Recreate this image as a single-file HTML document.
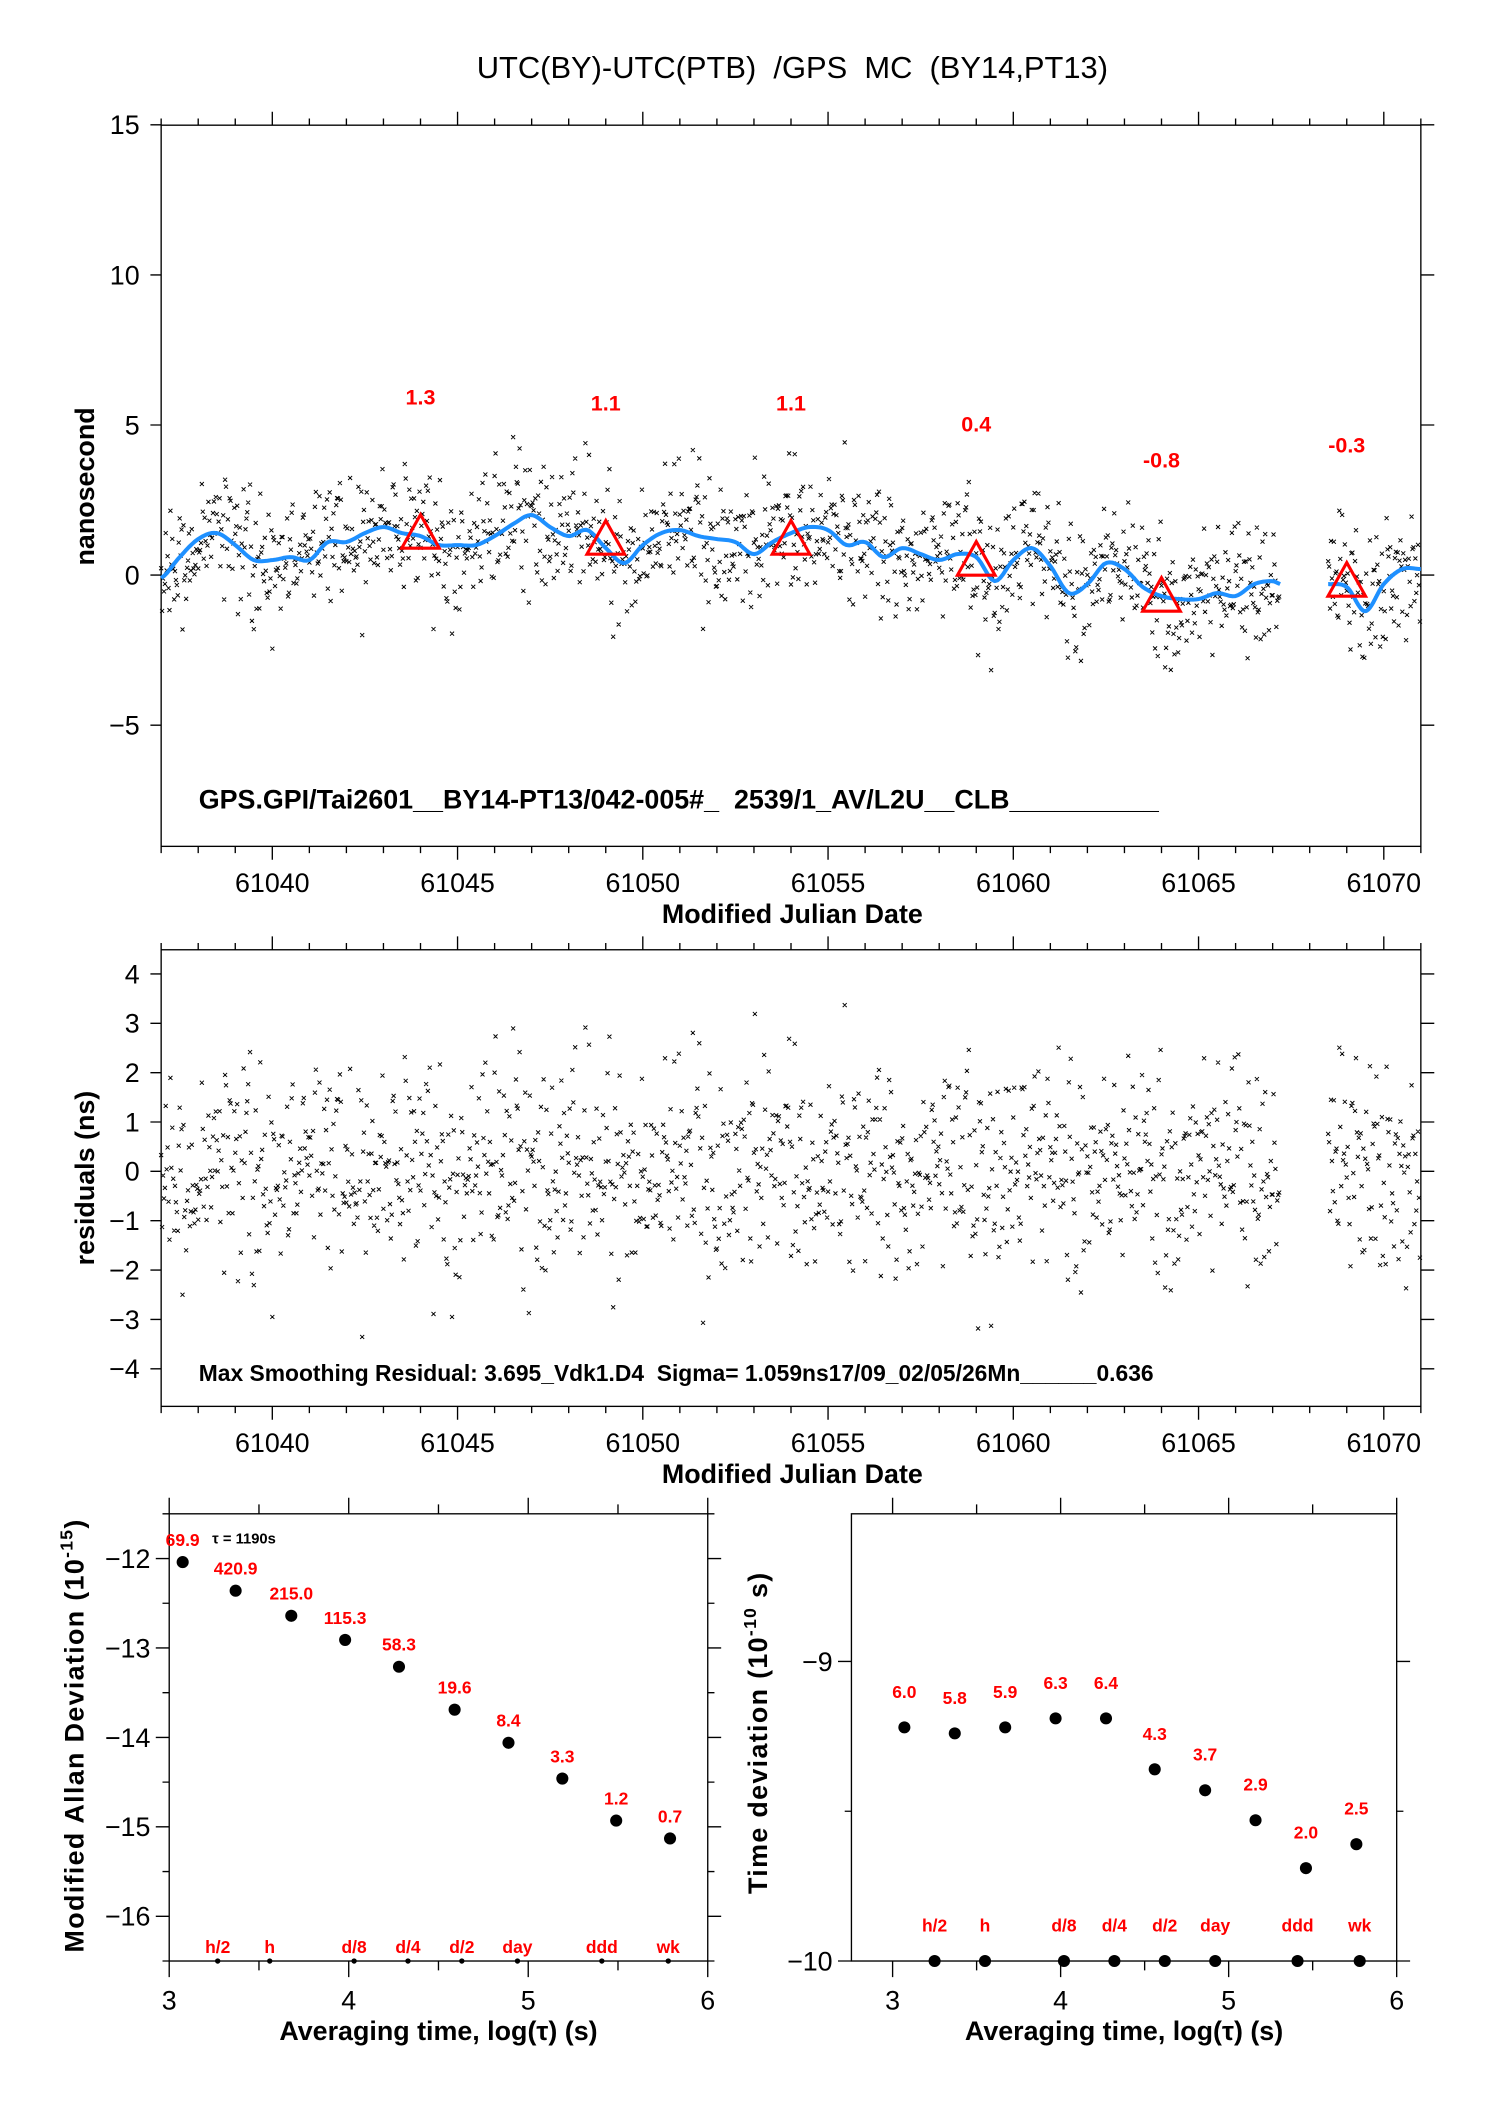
<!DOCTYPE html>
<html><head><meta charset="utf-8">
<style>
html,body{margin:0;padding:0;background:#fff;}
svg{display:block;font-family:"Liberation Sans",sans-serif;}
text{white-space:pre;}
</style></head>
<body>
<svg id="root" width="1488" height="2105" viewBox="0 0 1108 1567" xmlns="http://www.w3.org/2000/svg">
<text x="590" y="58" font-size="23" text-anchor="middle" xml:space="preserve">UTC(BY)-UTC(PTB)  /GPS  MC  (BY14,PT13)</text>
<g id="top"></g>
<g id="mid"></g>
<g id="bl"></g>
<g id="br"></g>
</svg>
<script>
// ---- data ----
const smoothMjd = [61037,61037.5,61038,61038.5,61039,61039.5,61040,61040.5,61041,61041.5,61042,61042.5,61043,61043.5,61044,61044.5,61045,61045.5,61046,61046.5,61047,61047.5,61048,61048.5,61049,61049.5,61050,61050.5,61051,61051.5,61052,61052.5,61053,61053.5,61054,61054.5,61055,61055.5,61056,61056.5,61057,61057.5,61058,61058.5,61059,61059.5,61060,61060.5,61061,61061.5,61062,61062.5,61063,61063.5,61064,61064.5,61065,61065.5,61066,61066.5,61067,61067.2];
const smoothVal = [-0.1,0.6,1.2,1.4,1.0,0.5,0.5,0.6,0.5,1.1,1.1,1.4,1.6,1.4,1.3,1.0,1.0,1.0,1.3,1.7,2.0,1.6,1.3,1.5,0.9,0.4,1.0,1.4,1.5,1.3,1.2,1.1,0.7,1.1,1.4,1.6,1.5,1.0,1.1,0.6,0.9,0.7,0.5,0.7,0.6,-0.2,0.5,0.9,0.3,-0.6,-0.3,0.4,0.2,-0.4,-0.7,-0.8,-0.8,-0.6,-0.7,-0.3,-0.2,-0.3];
const smooth2Mjd = [61068.5,61069,61069.5,61070,61070.5,61071];
const smooth2Val = [-0.3,-0.4,-1.2,-0.3,0.2,0.2];
const triMjd = [61044,61049,61054,61059,61064,61069];
const triVal = [1.3,1.1,1.1,0.4,-0.8,-0.3];
const residualPattern = [0.3,-0.8,1.2,-0.2,0.6,-1.5,0.1,0.9,-0.4,2.1,-1.1,0.4,-0.6,1.6,-2.3,0.2,0.7,-0.9,1.1,-0.1,-1.8,0.5,2.7,-0.3,0.8,-1.3,0.0,1.4,-0.7,-2.6,0.6,1.9,-0.5,0.3,-1.0,2.4,-0.2,-1.6,0.9,0.1,-0.4,1.3,-3.1,0.4,0.7,-0.8,1.7,-1.2,0.2,2.9,-0.6,-0.1,1.0,-2.0,0.5,-0.9,1.5,0.0,-1.4,0.8,3.3,-0.3,-0.7,1.2,-2.8,0.4,0.6,-1.1,2.2,-0.5,0.1,-1.9,1.8,0.3,-0.2,-3.5,1.1,0.9,-0.6,2.5,-1.5,0.2,-0.4,1.4,-2.2,0.7,0.0,-1.0,1.9,-0.8,0.5,-2.4,3.0,-0.3,0.6,-1.7,0.8];
const mjdTicks = [61040,61045,61050,61055,61060,61065,61070];
const topYTicks = [15,10,5,0,-5];
const midYTicks = [4,3,2,1,0,-1,-2,-3,-4];
const adevLogTau = [3.075,3.37,3.68,3.98,4.28,4.59,4.89,5.19,5.49,5.79];
const adevVal = [-12.04,-12.36,-12.64,-12.91,-13.21,-13.69,-14.06,-14.46,-14.93,-15.13];
const adevLabels = ["69.9","420.9","215.0","115.3","58.3","19.6","8.4","3.3","1.2","0.7"];
const tdevLogTau = [3.07,3.37,3.67,3.97,4.27,4.56,4.86,5.16,5.46,5.76];
const tdevVal = [-9.22,-9.24,-9.22,-9.19,-9.19,-9.36,-9.43,-9.53,-9.69,-9.61];
const tdevLabels = ["6.0","5.8","5.9","6.3","6.4","4.3","3.7","2.9","2.0","2.5"];
const markerNames = ["h/2","h","d/8","d/4","d/2","day","ddd","wk"];
const markerLogTauL = [3.27,3.56,4.03,4.33,4.63,4.94,5.41,5.78];
const markerLogTauR = [3.25,3.55,4.02,4.32,4.62,4.92,5.41,5.78];
const adevYTicks = [-12,-13,-14,-15,-16];
const tdevYTicks = [-9,-10];
const logTicks = [3,4,5,6];

const NS="http://www.w3.org/2000/svg";
function mk(parent,tag,attrs,text){const e=document.createElementNS(NS,tag);for(const k in attrs)e.setAttribute(k,attrs[k]);if(text!==undefined)e.textContent=text;parent.appendChild(e);return e;}
function interp(xs,ys,x){for(let i=0;i<xs.length-1;i++){if(x>=xs[i]&&x<=xs[i+1]){const t=(x-xs[i])/(xs[i+1]-xs[i]);return ys[i]+t*(ys[i+1]-ys[i]);}}return ys[ys.length-1];}
function spline(xs,ys,x){let i=0;while(i<xs.length-2&&x>xs[i+1])i++;
  const p0=ys[Math.max(i-1,0)],p1=ys[i],p2=ys[i+1],p3=ys[Math.min(i+2,ys.length-1)];
  const t=Math.min(1,Math.max(0,(x-xs[i])/(xs[i+1]-xs[i])));const t2=t*t,t3=t2*t;
  return 0.5*((2*p1)+(-p0+p2)*t+(2*p0-5*p1+4*p2-p3)*t2+(-p0+3*p1-3*p2+p3)*t3);}

const X0=120,X1=1058,M0=61037,M1=61071;
const xM=m=>X0+(m-M0)/(M1-M0)*(X1-X0);
function frameMjd(g,top,bot){
  mk(g,'rect',{x:X0,y:top,width:X1-X0,height:bot-top,fill:'none',stroke:'#000','stroke-width':1});
  let d='';
  for(let m=61037;m<=61071;m++){const x=xM(m);const L=(m%5===0)?10:5;d+=`M${x},${top}v${-L}M${x},${bot}v${L}`;}
  const p=mk(g,'path',{d:d,stroke:'#000','stroke-width':1,fill:'none'});
  
  
  mjdTicks.forEach(m=>{const t=mk(g,'text',{x:xM(m),y:bot+34,'font-size':20,'text-anchor':'middle'},String(m));
    
    });
  const at=mk(g,'text',{x:590,y:bot+57,'font-size':20,'font-weight':'bold','text-anchor':'middle'},'Modified Julian Date');
  
  
}
function yAxis(g,ticks,yf,x0,x1){
  let d='';
  ticks.forEach(v=>{const y=yf(v);d+=`M${x0},${y}h-8M${x1},${y}h10`;
    const t=mk(g,'text',{x:x0-16,y:y+7,'font-size':20,'text-anchor':'end'},String(v).replace('-','\u2212'));
    
    });
  const p=mk(g,'path',{d:d,stroke:'#000','stroke-width':1});
  
  
}
function crosses(g,pts,name){
  let d='';const s=1.5;
  pts.forEach(([x,y])=>{d+=`M${(x-s).toFixed(1)},${(y-s).toFixed(1)}l${2*s},${2*s}M${(x-s).toFixed(1)},${(y+s).toFixed(1)}l${2*s},${-2*s}`;});
  const p=mk(g,'path',{d:d,stroke:'#000','stroke-width':0.7,fill:'none'});
  
  
}
function sampleMjds(){const a=[];const step=1/40;
  for(let m=61037.0;m<=61067.2;m+=step)a.push(m);
  for(let m=61068.5;m<=61071;m+=step)a.push(m);return a;}
const mjds=sampleMjds();
const N=residualPattern.length;
function resid(i){return 0.65*residualPattern[(i*37)%N]+0.45*residualPattern[(i*3+11*Math.floor(i/N))%N];}

(function(){
  const g=document.getElementById('top');const top=93,bot=630;
  const yT=v=>428-v*22.35;
  frameMjd(g,top,bot);
  yAxis(g,topYTicks,yT,X0,X1);
  const yl=mk(g,'text',{x:0,y:0,'font-size':20,'font-weight':'bold','text-anchor':'middle',transform:'translate(70,362) rotate(-90)'},'nanosecond');
  
  
  const pts=[];
  mjds.forEach((m,i)=>{const base=m<61068?interp(smoothMjd,smoothVal,m):interp(smooth2Mjd,smooth2Val,m);
    pts.push([xM(m),yT(base+resid(i))]);});
  crosses(g,pts,'measurement-points');
  function line(xs,ys,name){let d='';const a=xs[0],b=xs[xs.length-1];
    for(let k=0;k<=400;k++){const m=a+(b-a)*k/400;d+=(k?'L':'M')+xM(m).toFixed(1)+','+yT(spline(xs,ys,m)).toFixed(1);}
    const p=mk(g,'path',{d:d,stroke:'#1e90ff','stroke-width':3,fill:'none','stroke-linejoin':'round'});
    
    }
  line(smoothMjd,smoothVal,'smoothing-curve');
  line(smooth2Mjd,smooth2Val,'smoothing-curve-2');
  triMjd.forEach((m,i)=>{const x=xM(m),y=yT(triVal[i]);
    const t=mk(g,'path',{d:`M${x},${y-16}L${x-14},${y+9}L${x+14},${y+9}Z`,fill:'none',stroke:'#f00','stroke-width':2.3});
    
    
    const l=mk(g,'text',{x:x,y:yT(triVal[i]+4.65)+6,'font-size':16,'font-weight':'bold',fill:'#f00','text-anchor':'middle'},triVal[i].toFixed(1));
    
    });
  const f=mk(g,'text',{x:148,y:602,'font-size':20,'font-weight':'bold'},'GPS.GPI/Tai2601__BY14-PT13/042-005#_  2539/1_AV/L2U__CLB__________');
  
  
})();

(function(){
  const g=document.getElementById('mid');const top=707,bot=1047;
  const yR=v=>872-v*36.75;
  frameMjd(g,top,bot);
  yAxis(g,midYTicks,yR,X0,X1);
  const yl=mk(g,'text',{x:0,y:0,'font-size':20,'font-weight':'bold','text-anchor':'middle',transform:'translate(70,877) rotate(-90)'},'residuals (ns)');
  
  
  const pts=[];
  mjds.forEach((m,i)=>{pts.push([xM(m),yR(resid(i))]);});
  crosses(g,pts,'residual-points');
  const f=mk(g,'text',{x:148,y:1028,'font-size':17,'font-weight':'bold'},'Max Smoothing Residual: 3.695_Vdk1.D4  Sigma= 1.059ns17/09_02/05/26Mn______0.636');
  
  
})();

function devPanel(g,o){
  const {x0,x1,top,bot,l0,l1,v0,v1}=o;
  const xf=l=>x0+(l-l0)/(l1-l0)*(x1-x0);
  const yf=v=>top+(v1-v)/(v1-v0)*(bot-top);
  mk(g,'rect',{x:x0,y:top,width:x1-x0,height:bot-top,fill:'none',stroke:'#000','stroke-width':1});
  let d='';
  for(let l=3;l<=6.001;l+=0.5){const x=xf(l);const L=(Math.abs(l-Math.round(l))<0.01)?12:7;d+=`M${x},${top}v${-L}M${x},${bot}v${L}`;}
  for(let v=Math.ceil(v0*2)/2;v<=v1;v+=0.5){const y=yf(v);const L=(Math.abs(v-Math.round(v))<0.01)?10:5;d+=`M${x0},${y}h${-L}M${x1},${y}h${L}`;}
  const p=mk(g,'path',{d:d,stroke:'#000','stroke-width':1});
  
  
  logTicks.forEach(l=>{const t=mk(g,'text',{x:xf(l),y:bot+36,'font-size':20,'text-anchor':'middle'},String(l));
    
    });
  o.yTicks.forEach(v=>{const t=mk(g,'text',{x:x0-14,y:yf(v)+7,'font-size':20,'text-anchor':'end'},String(v).replace('-','\u2212'));
    
    });
  const xt=mk(g,'text',{x:(x0+x1)/2,y:bot+59,'font-size':20,'font-weight':'bold','text-anchor':'middle'},'Averaging time, log(\u03c4) (s)');
  
  
  const yl=mk(g,'text',{x:0,y:0,'font-size':20,'font-weight':'bold','text-anchor':'middle','letter-spacing':1,transform:`translate(${o.ylx},${o.yly}) rotate(-90)`});
  
  
  yl.appendChild(document.createTextNode(o.ylab));
  mk(yl,'tspan',{dy:-8,'font-size':13},o.exp);
  mk(yl,'tspan',{dy:8},o.unit);
  o.lt.forEach((l,i)=>{const c=mk(g,'circle',{cx:xf(l),cy:yf(o.vals[i]),r:4.5,fill:'#000'});
    
    
    const t=mk(g,'text',{x:xf(l),y:yf(o.vals[i])-o.lblOff,'font-size':13,'font-weight':'bold',fill:'#f00','text-anchor':'middle'},o.labels[i]);
    
    });
  o.mk.forEach((l,i)=>{const c=mk(g,'circle',{cx:xf(l),cy:bot,r:o.mr,fill:'#000'});
    
    
    const t=mk(g,'text',{x:xf(l),y:o.mly,'font-size':13,'font-weight':'bold',fill:'#f00','text-anchor':'middle'},markerNames[i]);
    
    });
  return {xf,yf};
}
(function(){
  const g=document.getElementById('bl');
  devPanel(g,{x0:126,x1:527,top:1127,bot:1460,l0:3,l1:6,v0:-16.5,v1:-11.5,yTicks:adevYTicks,
    lt:adevLogTau,vals:adevVal,labels:adevLabels,lblOff:12,mk:markerLogTauL,mr:2,mly:1454,
    ylx:62,yly:1292,ylab:'Modified Allan Deviation (10',exp:'-15',unit:')'});
  const t=mk(g,'text',{x:158,y:1149,'font-size':11,'font-weight':'bold'},'\u03c4 = 1190s');
  
  
})();
(function(){
  const g=document.getElementById('br');
  devPanel(g,{x0:634,x1:1040,top:1127,bot:1460,l0:2.755,l1:6,v0:-10,v1:-8.507,yTicks:tdevYTicks,
    lt:tdevLogTau,vals:tdevVal,labels:tdevLabels,lblOff:22,mk:markerLogTauR,mr:4.5,mly:1438,
    ylx:571,yly:1290,ylab:'Time deviation (10',exp:'-10',unit:' s)'});
})();
</script>
</body></html>
